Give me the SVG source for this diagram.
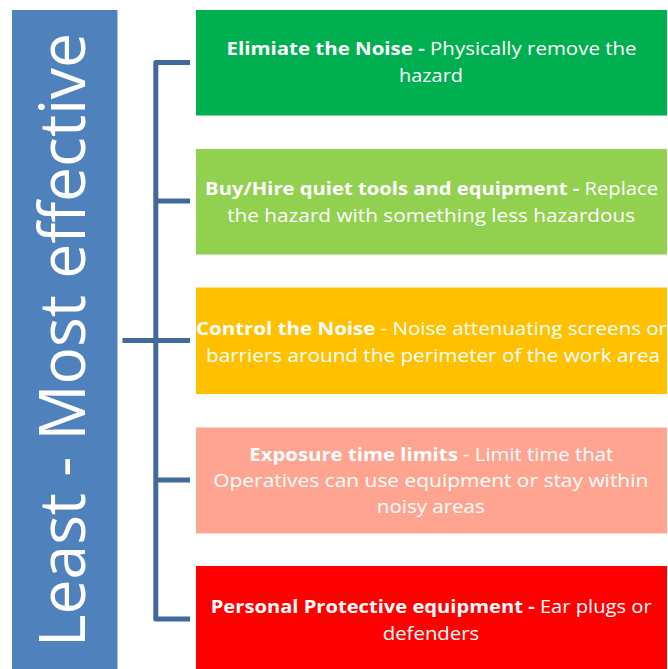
<svg xmlns="http://www.w3.org/2000/svg" width="668" height="669" viewBox="0 0 668 669">
<style>
.t{font-family:"Open Sans","Liberation Sans",sans-serif;font-size:18px;fill:#fff;text-anchor:middle}
.b{font-weight:bold}
.conn{fill:none;stroke:#41699B;stroke-width:5;stroke-linejoin:round}
</style>
<rect width="668" height="669" fill="#fff"/>
<g id="axis">
<rect x="12" y="10" width="105.5" height="659" fill="#4F81BD"/>
<text transform="translate(85,340) rotate(-90)" x="0" y="0" text-anchor="middle" font-family="Open Sans, Liberation Sans, sans-serif" font-size="64" fill="#fff" textLength="614" lengthAdjust="spacingAndGlyphs">Least - Most effective</text>
</g>
<g id="connectors">
<path class="conn" d="M190,62.5 H155.8 V619 H190"/>
<path class="conn" d="M155.8,201 H190 M155.8,480 H190 M122.5,340.5 H190"/>
</g>
<g id="node1">
<rect x="196" y="10" width="471" height="105.5" fill="#00B050"/>
<text class="t" x="431.5" y="55" textLength="410" lengthAdjust="spacingAndGlyphs"><tspan class="b">Elimiate the Noise -</tspan> Physically remove the</text>
<text class="t" x="431" y="81.5" textLength="64" lengthAdjust="spacingAndGlyphs">hazard</text>
</g>
<g id="node2">
<rect x="196" y="149" width="471" height="105.5" fill="#92D050"/>
<text class="t" x="431.6" y="194.5" textLength="453" lengthAdjust="spacingAndGlyphs"><tspan class="b">Buy/Hire quiet tools and equipment -</tspan> Replace</text>
<text class="t" x="431.2" y="221.5" textLength="408" lengthAdjust="spacingAndGlyphs">the hazard with something less hazardous</text>
</g>
<g id="node3">
<rect x="196" y="287.5" width="471" height="106.5" fill="#FFC000"/>
<text class="t" x="431.5" y="335" textLength="471" lengthAdjust="spacingAndGlyphs"><tspan class="b">Control the Noise</tspan> - Noise attenuating screens or</text>
<text class="t" x="433" y="361.5" textLength="454" lengthAdjust="spacingAndGlyphs">barriers around the perimeter of the work area</text>
</g>
<g id="node4">
<rect x="196" y="427.5" width="471" height="106" fill="#FFA491"/>
<text class="t" x="431.3" y="460.5" textLength="364" lengthAdjust="spacingAndGlyphs"><tspan class="b">Exposure time limits</tspan> - Limit time that</text>
<text class="t" x="430.8" y="486.5" textLength="435" lengthAdjust="spacingAndGlyphs">Operatives can use equipment or stay within</text>
<text class="t" x="430.8" y="512.5" textLength="108" lengthAdjust="spacingAndGlyphs">noisy areas</text>
</g>
<g id="node5">
<rect x="196" y="566" width="471" height="103" fill="#FF0000"/>
<text class="t" x="431.2" y="612.5" textLength="441" lengthAdjust="spacingAndGlyphs"><tspan class="b">Personal Protective equipment -</tspan> Ear plugs or</text>
<text class="t" x="431" y="639.5" textLength="96.5" lengthAdjust="spacingAndGlyphs">defenders</text>
</g>
</svg>
